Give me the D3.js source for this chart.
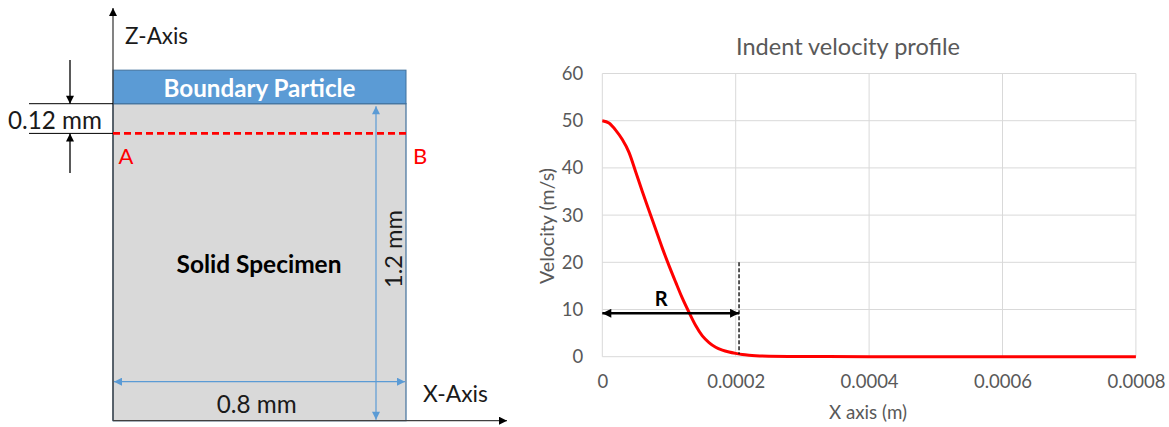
<!DOCTYPE html>
<html>
<head>
<meta charset="utf-8">
<script src="https://cdn.jsdelivr.net/npm/d3@7"></script>
<style>
  html, body { margin: 0; padding: 0; background: #fff; }
  svg { display: block; }
  text { font-family: Lato, "Open Sans", "Liberation Sans", sans-serif; }
</style>
</head>
<body>
<svg id="chart" width="1169" height="427"></svg>
<script>
// ---------------- Data ----------------
const xPositions = [0, 0.00001, 0.00002, 0.00003, 0.00004, 0.00005, 0.00006, 0.00007, 0.00008, 0.00009,
  0.0001, 0.00011, 0.00012, 0.00013, 0.00014, 0.00015, 0.00016, 0.00017, 0.00018, 0.00019,
  0.0002, 0.00021, 0.00022, 0.00023, 0.00025, 0.0003, 0.0004, 0.0005, 0.0006, 0.0007, 0.0008];
const velocities = [50, 49.5, 48, 46, 43.3, 39.2, 35, 31, 27, 23,
  19.3, 15.8, 12.4, 9.4, 6.6, 4.4, 3, 2, 1.4, 1,
  0.7, 0.45, 0.3, 0.2, 0.1, 0.05, 0, 0, 0, 0, 0];
const xTicks = [0, 0.0002, 0.0004, 0.0006, 0.0008];
const xTickLabels = ["0", "0.0002", "0.0004", "0.0006", "0.0008"];
const yTicks = [0, 10, 20, 30, 40, 50, 60];
const yTickLabels = ["0", "10", "20", "30", "40", "50", "60"];
// annotation: radius R of indent
const radiusR = 0.000205;
const radiusArrowY = 9.2;
const radiusLineTop = 20;
const radiusLineBottom = 0.5;

// schematic (mm)
const specimenWidth = 0.8;
const specimenHeight = 1.2;
const boundaryThickness = 0.127;
const lineABDepth = 0.12;

const svg = d3.select("#chart");

function fitText(sel, target) {
  const w = sel.node().getComputedTextLength();
  const fs = parseFloat(sel.attr("font-size"));
  sel.attr("font-size", (fs * target / w).toFixed(2));
  return sel;
}

// arrow markers
const defs = svg.append("defs");
function marker(id, color, w, h) {
  defs.append("marker").attr("id", id)
    .attr("viewBox", "0 0 10 10").attr("refX", 10).attr("refY", 5)
    .attr("markerWidth", w).attr("markerHeight", h)
    .attr("markerUnits", "userSpaceOnUse")
    .attr("orient", "auto-start-reverse")
    .append("path").attr("d", "M0,0 L10,5 L0,10 Z").attr("fill", color);
}
marker("arrBlack", "#000", 10, 8);
marker("arrBlue", "#5b9bd5", 9, 8);
marker("arrR", "#000", 11, 9);

// ---------------- Left schematic ----------------
const sx = d3.scaleLinear().domain([0, specimenWidth]).range([113, 406]);
const sz = d3.scaleLinear().domain([0, specimenHeight]).range([420.7, 103.7]);

// solid specimen
svg.append("rect")
  .attr("x", sx(0)).attr("y", sz(specimenHeight))
  .attr("width", sx(specimenWidth) - sx(0)).attr("height", sz(0) - sz(specimenHeight))
  .attr("fill", "#d9d9d9").attr("stroke", "#41719c").attr("stroke-width", 1.2);
// boundary particle layer
svg.append("rect")
  .attr("x", sx(0)).attr("y", sz(specimenHeight + boundaryThickness))
  .attr("width", sx(specimenWidth) - sx(0))
  .attr("height", sz(specimenHeight) - sz(specimenHeight + boundaryThickness))
  .attr("fill", "#5b9bd5").attr("stroke", "#41719c").attr("stroke-width", 1);
svg.append("text").text("Boundary Particle")
  .attr("x", sx(specimenWidth / 2)).attr("y", 87)
  .attr("text-anchor", "middle").attr("dominant-baseline", "central")
  .attr("font-weight", "bold").attr("font-size", 20).attr("fill", "#fff")
  .call(s => fitText(s, 192));

// axes of schematic
svg.append("line").attr("x1", sx(0)).attr("x2", sx(0)).attr("y1", sz(0)).attr("y2", 8)
  .attr("stroke", "#404040").attr("stroke-width", 1.3).attr("marker-end", "url(#arrBlack)");
svg.append("line").attr("x1", sx(0)).attr("x2", 507).attr("y1", sz(0)).attr("y2", sz(0))
  .attr("stroke", "#404040").attr("stroke-width", 1.3).attr("marker-end", "url(#arrBlack)");
svg.append("text").text("Z-Axis").attr("x", 125).attr("y", 35)
  .attr("dominant-baseline", "central").attr("font-size", 20).attr("fill", "#1a1a1a")
  .call(s => fitText(s, 63));
svg.append("text").text("X-Axis").attr("x", 423).attr("y", 393)
  .attr("dominant-baseline", "central").attr("font-size", 20).attr("fill", "#1a1a1a")
  .call(s => fitText(s, 65));

// red dashed line A-B
const abY = sz(specimenHeight - lineABDepth) - 2;
svg.append("line").attr("x1", sx(0)).attr("x2", sx(specimenWidth)).attr("y1", abY).attr("y2", abY)
  .attr("stroke", "#ff0000").attr("stroke-width", 2.8).attr("stroke-dasharray", "7,4");
svg.append("text").text("A").attr("x", 126).attr("y", 155)
  .attr("text-anchor", "middle").attr("dominant-baseline", "central")
  .attr("font-size", 22).attr("fill", "#ff0000");
svg.append("text").text("B").attr("x", 420).attr("y", 155)
  .attr("text-anchor", "middle").attr("dominant-baseline", "central")
  .attr("font-size", 22).attr("fill", "#ff0000");

// 0.12 mm dimension
const topY = sz(specimenHeight);
[topY, abY].forEach(y => {
  svg.append("line").attr("x1", 29).attr("x2", sx(0)).attr("y1", y).attr("y2", y)
    .attr("stroke", "#000").attr("stroke-width", 1);
});
svg.append("line").attr("x1", 70).attr("x2", 70).attr("y1", 60).attr("y2", topY)
  .attr("stroke", "#000").attr("stroke-width", 1.3).attr("marker-end", "url(#arrBlack)");
svg.append("line").attr("x1", 70).attr("x2", 70).attr("y1", 173).attr("y2", abY)
  .attr("stroke", "#000").attr("stroke-width", 1.3).attr("marker-end", "url(#arrBlack)");
svg.append("text").text("0.12 mm").attr("x", 55).attr("y", 119)
  .attr("text-anchor", "middle").attr("dominant-baseline", "central")
  .attr("font-size", 20).attr("fill", "#1a1a1a")
  .call(s => fitText(s, 94));

// 1.2 mm dimension (blue vertical)
svg.append("line").attr("x1", 376).attr("x2", 376).attr("y1", sz(0) - 1).attr("y2", sz(specimenHeight) + 2.5)
  .attr("stroke", "#5b9bd5").attr("stroke-width", 1.2)
  .attr("marker-start", "url(#arrBlue)").attr("marker-end", "url(#arrBlue)");
svg.append("text").text("1.2 mm")
  .attr("transform", "translate(393,249) rotate(-90)")
  .attr("text-anchor", "middle").attr("dominant-baseline", "central")
  .attr("font-size", 20).attr("fill", "#1a1a1a")
  .call(s => fitText(s, 78));

// 0.8 mm dimension (blue horizontal)
svg.append("line").attr("x1", sx(0) + 1).attr("x2", sx(specimenWidth) - 1).attr("y1", 381.7).attr("y2", 381.7)
  .attr("stroke", "#5b9bd5").attr("stroke-width", 1.2)
  .attr("marker-start", "url(#arrBlue)").attr("marker-end", "url(#arrBlue)");
svg.append("text").text("0.8 mm").attr("x", 256.7).attr("y", 403)
  .attr("text-anchor", "middle").attr("dominant-baseline", "central")
  .attr("font-size", 20).attr("fill", "#1a1a1a")
  .call(s => fitText(s, 80));

svg.append("text").text("Solid Specimen").attr("x", 259).attr("y", 263.5)
  .attr("text-anchor", "middle").attr("dominant-baseline", "central")
  .attr("font-size", 20).attr("font-weight", "bold").attr("fill", "#000")
  .call(s => fitText(s, 165));

// ---------------- Right chart ----------------
const x = d3.scaleLinear().domain([0, 0.0008]).range([602.3, 1135.9]);
const y = d3.scaleLinear().domain([0, 60]).range([356.7, 73.5]);

const grid = svg.append("g");
grid.selectAll(".hg").data(yTicks).join("line")
  .attr("x1", x(0)).attr("x2", x(0.0008))
  .attr("y1", d => y(d)).attr("y2", d => y(d))
  .attr("stroke", "#d9d9d9").attr("stroke-width", 1);
grid.selectAll(".vg").data(xTicks).join("line")
  .attr("x1", d => x(d)).attr("x2", d => x(d))
  .attr("y1", y(0)).attr("y2", y(60))
  .attr("stroke", "#d9d9d9").attr("stroke-width", 1);

// y tick labels
const yAxis = d3.axisLeft(y).tickValues(yTicks).tickFormat((d, i) => yTickLabels[i]).tickSize(0).tickPadding(19);
const gy = svg.append("g").attr("transform", `translate(${x(0)},0)`).call(yAxis);
gy.select(".domain").remove();
gy.selectAll("text").attr("font-size", 17).attr("fill", "#595959").attr("font-family", "Lato, sans-serif");

// x tick labels
const xAxis = d3.axisBottom(x).tickValues(xTicks).tickFormat((d, i) => xTickLabels[i]).tickSize(0).tickPadding(18);
const gx = svg.append("g").attr("transform", `translate(0,${y(0)})`).call(xAxis);
gx.select(".domain").remove();
gx.selectAll("text").attr("font-size", 17).attr("fill", "#595959").attr("font-family", "Lato, sans-serif");
// size ticks to match widths
{
  const t = gx.selectAll("text").filter((d, i) => i === 1);
  const w = t.node().getComputedTextLength();
  const fs = 17 * 58 / w;
  gx.selectAll("text").attr("font-size", fs.toFixed(2));
  gy.selectAll("text").attr("font-size", fs.toFixed(2));
}

// title & axis titles
svg.append("text").text("Indent velocity profile").attr("x", 848).attr("y", 46)
  .attr("text-anchor", "middle").attr("dominant-baseline", "central")
  .attr("font-size", 19).attr("fill", "#595959")
  .call(s => fitText(s, 224));
svg.append("text").text("X axis (m)").attr("x", 868).attr("y", 411)
  .attr("text-anchor", "middle").attr("dominant-baseline", "central")
  .attr("font-size", 16).attr("fill", "#595959")
  .call(s => fitText(s, 78));
svg.append("text").text("Velocity (m/s)")
  .attr("transform", "translate(546,226) rotate(-90)")
  .attr("text-anchor", "middle").attr("dominant-baseline", "central")
  .attr("font-size", 16).attr("fill", "#595959")
  .call(s => fitText(s, 116));

// velocity curve
const line = d3.line().x((d, i) => x(xPositions[i])).y(d => y(d)).curve(d3.curveMonotoneX);
svg.append("path").datum(velocities)
  .attr("d", line).attr("fill", "none")
  .attr("stroke", "#ff0000").attr("stroke-width", 3).attr("stroke-linejoin", "round");

// R annotation
svg.append("line").attr("x1", x(radiusR)).attr("x2", x(radiusR))
  .attr("y1", y(radiusLineTop)).attr("y2", y(radiusLineBottom))
  .attr("stroke", "#000").attr("stroke-width", 1.3).attr("stroke-dasharray", "4,2");
svg.append("line").attr("x1", x(0)).attr("x2", x(radiusR))
  .attr("y1", y(radiusArrowY)).attr("y2", y(radiusArrowY))
  .attr("stroke", "#000").attr("stroke-width", 2.5)
  .attr("marker-start", "url(#arrR)").attr("marker-end", "url(#arrR)");
svg.append("text").text("R").attr("x", x(radiusR * 0.43)).attr("y", 298)
  .attr("text-anchor", "middle").attr("dominant-baseline", "central")
  .attr("font-size", 20).attr("font-weight", "bold").attr("fill", "#000");
</script>
</body>
</html>
